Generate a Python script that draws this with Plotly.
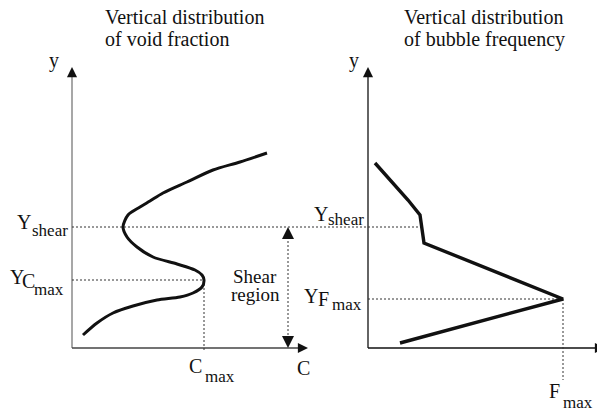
"""Schematic: vertical distribution of void fraction and of bubble frequency."""

import numpy as np
import plotly.graph_objects as go

_FONT = "Liberation Serif"
_COL_INK = "#111111"
_COL_AXIS_GREY = "#8a8a8a"
_COL_GUIDE = "#333333"

# Schematic units (roughly 1 unit per px of the drawing). Both panels share the
# y scale; the right panel has its own origin along x.
RIGHT_ORIGIN = 296
AXIS_HEIGHT = 281
LEFT_AXIS_LEN = 236
RIGHT_AXIS_LEN = 237

# void fraction profile C(y), left panel
VOID_C = [195, 168, 141, 115, 91, 78, 68, 56, 51, 55, 65, 81, 105, 123, 130, 132,
          130, 121, 108, 85, 61, 41, 25, 11]
VOID_Y = [195, 186, 178, 166, 155, 147, 141, 133, 121, 111, 101, 91, 84, 78, 73, 68,
          61, 55, 51, 48, 42, 35, 25, 13]

# bubble frequency profile F(y), right panel (local x)
FREQ_F = [7, 40, 52, 54, 56, 195, 32]
FREQ_Y = [185, 148, 133, 118, 105, 49, 5]

Y_SHEAR = 121

# C_max is the bulge below the shear level, not the top end of the profile
_below = [(c, y) for c, y in zip(VOID_C, VOID_Y) if y < Y_SHEAR]
C_MAX, Y_CMAX = max(_below)
F_MAX = max(FREQ_F)
Y_FMAX = FREQ_Y[FREQ_F.index(F_MAX)]


def _line(fig, x, y, color=_COL_INK, width=1.0, dash=None, shape="linear"):
    fig.add_trace(
        go.Scatter(
            x=x, y=y, mode="lines", hoverinfo="skip",
            line=dict(color=color, width=width, dash=dash, shape=shape, smoothing=0.8),
        )
    )


def _head(fig, x, y, dx, dy, scale=1.35):
    # arrow head only: the tail sits a few px behind the tip
    fig.add_annotation(
        x=x, y=y, ax=dx, ay=dy, text="", showarrow=True,
        arrowhead=2, arrowsize=scale, arrowwidth=1.5, arrowcolor=_COL_INK,
    )


def _text(fig, x, y, s, size=20, anchor="left"):
    fig.add_annotation(
        x=x, y=y, text=s, showarrow=False, xanchor=anchor, yanchor="middle",
        font=dict(family=_FONT, size=size, color=_COL_INK),
    )


fig = go.Figure()

# axes
_line(fig, [0, 0], [0, AXIS_HEIGHT - 4], color=_COL_AXIS_GREY, width=1.5)
_line(fig, [0, LEFT_AXIS_LEN - 4], [0, 0], color="#444444", width=1.5)
_line(fig, [RIGHT_ORIGIN, RIGHT_ORIGIN], [0, AXIS_HEIGHT - 4], width=1.3)
_line(fig, [RIGHT_ORIGIN, RIGHT_ORIGIN + RIGHT_AXIS_LEN - 4], [0, 0], width=1.3)
_head(fig, 0, AXIS_HEIGHT, 0, 8)
_head(fig, LEFT_AXIS_LEN, 0, -8, 0)
_head(fig, RIGHT_ORIGIN, AXIS_HEIGHT, 0, 8)
_head(fig, RIGHT_ORIGIN + RIGHT_AXIS_LEN, 0, -8, 0)

# guide lines
seg = slice(2, 5)
shear_end = RIGHT_ORIGIN + np.interp(Y_SHEAR, FREQ_Y[seg][::-1], FREQ_F[seg][::-1])
_line(fig, [0, shear_end], [Y_SHEAR, Y_SHEAR], color=_COL_GUIDE, dash="2px,2px")
_line(fig, [0, C_MAX], [Y_CMAX, Y_CMAX], color=_COL_GUIDE, dash="2px,2px")
_line(fig, [C_MAX, C_MAX], [Y_CMAX, -4], color=_COL_GUIDE, dash="2px,2px")
_line(fig, [RIGHT_ORIGIN, RIGHT_ORIGIN + F_MAX], [Y_FMAX, Y_FMAX], color=_COL_GUIDE, dash="2px,2px")
_line(fig, [RIGHT_ORIGIN + F_MAX] * 2, [Y_FMAX, -32], color=_COL_GUIDE, dash="2px,2px")

# shear region double arrow
_line(fig, [216, 216], [Y_SHEAR - 6, 6], color=_COL_GUIDE, dash="2px,2px")
_head(fig, 216, Y_SHEAR, 0, 7, scale=1.6)
_head(fig, 216, 0, 0, -7, scale=1.6)

# profiles
_line(fig, VOID_C, VOID_Y, width=3, shape="spline")
_line(fig, [RIGHT_ORIGIN + f for f in FREQ_F], FREQ_Y, width=3.4)

# titles
_text(fig, 31, 331, "Vertical distribution")
_text(fig, 31, 309, "of void fraction")
_text(fig, RIGHT_ORIGIN + 34, 331, "Vertical distribution")
_text(fig, RIGHT_ORIGIN + 34, 309, "of bubble frequency")

# axis names
_text(fig, -25, 288, "y")
_text(fig, RIGHT_ORIGIN - 21, 288, "y")
_text(fig, 223, -20, "C")
_text(fig, RIGHT_ORIGIN + 232, -20, "F")

# left panel labels
_text(fig, -57, 126, "Y")
_text(fig, -42, 118, "shear", size=17)
_text(fig, -64, 71, "Y")
_text(fig, -52, 67, "C")
_text(fig, -40, 59, "max", size=17)
_text(fig, 115, -18, "C")
_text(fig, 131, -28, "max", size=17)
_text(fig, 183, 72, "Shear", size=19, anchor="center")
_text(fig, 183, 54, "region", size=19, anchor="center")

# right panel labels
_text(fig, RIGHT_ORIGIN - 56, 134, "Y")
_text(fig, RIGHT_ORIGIN - 42, 129, "shear", size=17)
_text(fig, RIGHT_ORIGIN - 66, 52, "Y")
_text(fig, RIGHT_ORIGIN - 52, 49, "F")
_text(fig, RIGHT_ORIGIN - 38, 44, "max", size=17)
_text(fig, RIGHT_ORIGIN + 179, -43, "F")
_text(fig, RIGHT_ORIGIN + 193, -54, "max", size=17)

# the page body adds an 8 px margin, so the ranges are shifted to compensate
fig.update_xaxes(range=[-64, 541], visible=False, fixedrange=True)
fig.update_yaxes(range=[-72, 340], visible=False, fixedrange=True)
fig.update_layout(
    width=605,
    height=412,
    margin=dict(l=0, r=0, t=0, b=0),
    showlegend=False,
    plot_bgcolor="white",
    paper_bgcolor="white",
)

fig.write_html("out.html")
